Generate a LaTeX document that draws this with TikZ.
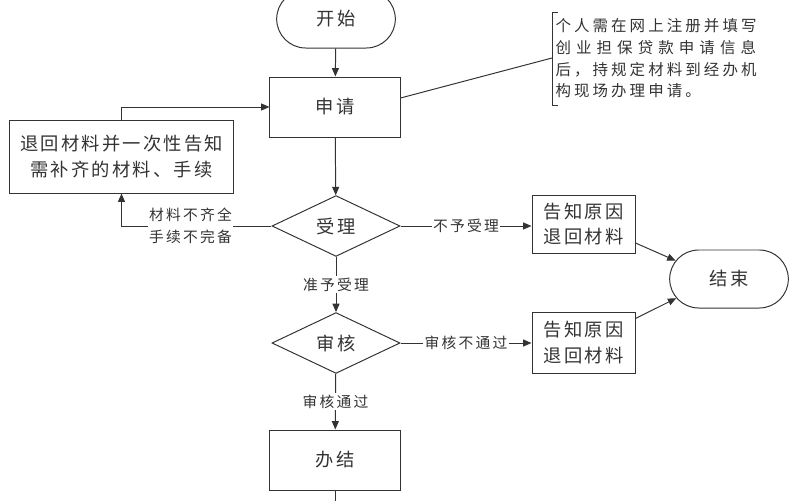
\documentclass[tikz,border=0pt]{standalone}
\usepackage{fontspec}
\setmainfont{Noto Sans CJK SC}[LetterSpace=12]
\usetikzlibrary{arrows.meta,shapes.geometric,shapes.misc,positioning}

\begin{document}
\begin{tikzpicture}[
  x=0.025cm, y=-0.025cm,
  color=black!80, line width=0.7pt,
  every node/.style={font=\fontsize{13}{19}\selectfont},
  box/.style={rectangle, draw, align=center, minimum width=3.25cm, minimum height=1.5cm},
  term/.style={rounded rectangle, draw, minimum width=3.2cm, minimum height=1.45cm},
  decide/.style={diamond, draw, aspect=2.1, inner sep=1pt, minimum width=3.2cm, minimum height=1.52cm},
  lbl/.style={fill=white, inner sep=1pt, align=center, font=\fontsize{10.5}{16}\selectfont\addfontfeature{LetterSpace=15}},
  flow/.style={draw, -{Triangle[length=6pt,width=5pt]}}
]
\useasboundingbox (0,0) rectangle (800,500);

\node[term] (start) at (336,19) {开始};
\node[box] (apply) at (335,107) {申请};
\node[box, minimum width=5.575cm, minimum height=1.825cm] (back) at (121.5,156.5)
  {退回材料并一次性告知\\需补齐的材料、手续};
\node[decide] (accept) at (336,226) {受理};
\node[decide] (review) at (336,343) {审核};
\node[box, minimum width=2.575cm, minimum height=1.45cm, font=\fontsize{13}{18}\selectfont] (told1) at (583.5,224) {告知原因\\退回材料};
\node[box, minimum width=2.575cm, minimum height=1.525cm, font=\fontsize{13}{18}\selectfont] (told2) at (583.5,342.5) {告知原因\\退回材料};
\node[term] (finish) at (729,279) {结束};
\node[box] (done) at (335,460) {办结};
\node[anchor=north west, align=left, inner sep=0pt, font=\fontsize{11}{15.5}\selectfont\addfontfeature{LetterSpace=20}] (note) at (555,18)
  {个人需在网上注册并填写\\{\addfontfeature{LetterSpace=33}创业担保贷款申请信息}\\后，持规定材料到经办机\\构现场办理申请。};

\coordinate (notept) at (552,58);
\coordinate (tail) at (335,520);
\draw (558,12) -- (552,12) -- (552,105) -- (558,105);
\draw ([yshift=0.225cm]apply.east) -- (notept);

\draw[flow] (start) -- (apply);
\draw[flow] (apply) -- (accept);
\draw[flow] (accept) -- node[lbl] {准予受理} (review);
\draw[flow] (review) -- node[lbl] {审核通过} (done);
\draw[flow] (accept.east) -- node[lbl] {不予受理} (accept.east -| told1.west);
\draw[flow] (review.east) -- node[lbl] {审核不通过} (review.east -| told2.west);
\draw[flow] (accept.west) -| node[lbl, pos=0.27] {材料不齐全\\手续不完备} (back.south);
\draw[flow] (back.north) |- (apply.west);
\draw[flow] ([yshift=-0.475cm]told1.east) -- (finish.161);
\draw[flow] ([yshift=0.6cm]told2.east) -- (finish.200);
\draw (done) -- (tail);
\end{tikzpicture}
\end{document}
